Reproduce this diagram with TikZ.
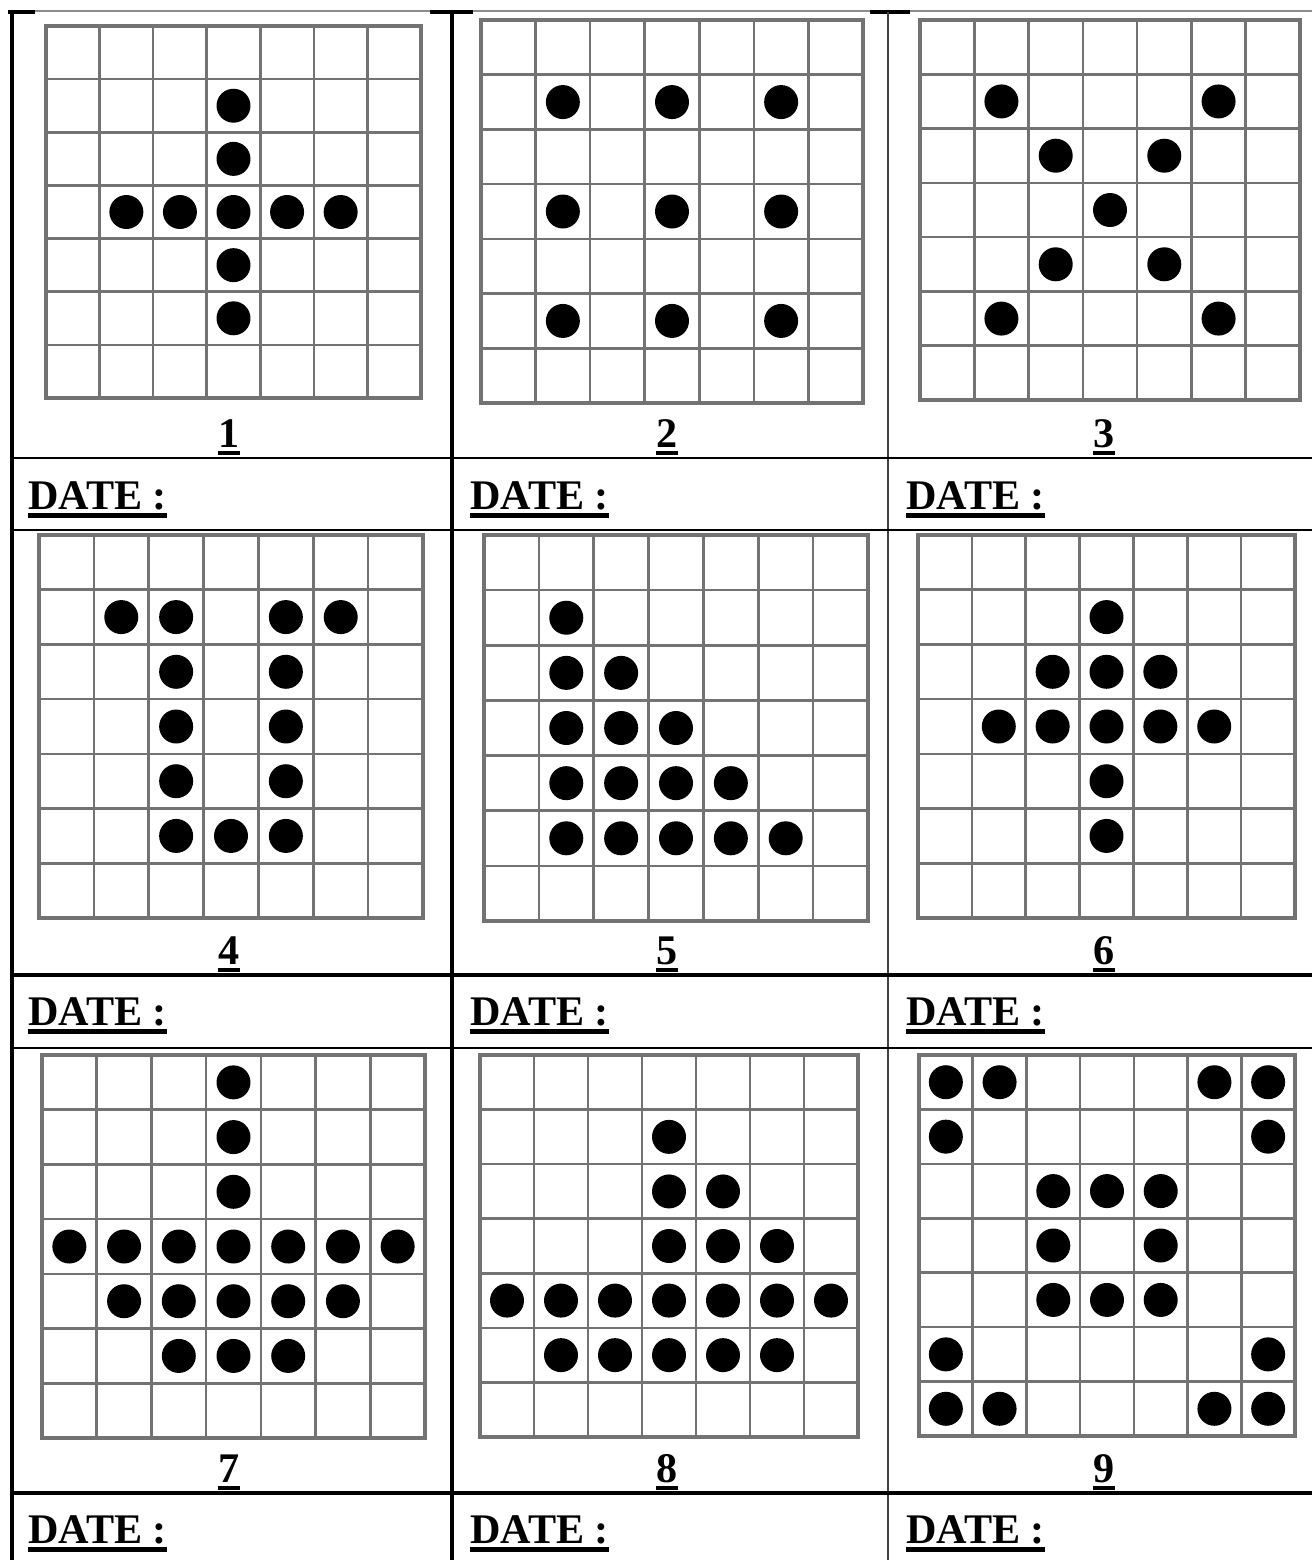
\documentclass[tikz,border=0pt]{standalone}
\usepackage{fontspec}
\setmainfont{Liberation Serif}
\usepackage{tikz}
\definecolor{gristrazo}{RGB}{115,115,115}
\definecolor{grisborde}{RGB}{140,140,140}
\newcommand{\subraya}[1]{\vtop{\hbox{#1}\kern2.2pt\hrule height 2.3pt}}

\begin{document}
\begin{tikzpicture}[x=0.02cm, y=-0.02cm,
  linea/.style={line width=1.2pt, draw=black},
  lineagruesa/.style={line width=1.8pt, draw=black},
  rejilla/.style={line width=1.5pt, draw=gristrazo},
  marco/.style={line width=2pt, draw=gristrazo},
  punto/.style={circle, fill=black, minimum size=0.68cm, inner sep=0pt},
  num/.style={font=\bfseries\fontsize{24}{28}\selectfont, inner sep=0pt,
              anchor=base},
  fecha/.style={font=\bfseries\fontsize{24}{28}\selectfont, inner sep=0pt,
                anchor=base west}]
  \useasboundingbox (0,0) rectangle (1312,1560);
  % Tabla
  \draw[line width=0.8pt, draw=grisborde] (12,11) -- (1312,11);
  \foreach \xa/\xb in {8/35, 430/473, 870/910}
    \draw[lineagruesa] (\xa,12) -- (\xb,12);
  \foreach \xv in {12,452}
    \draw[lineagruesa] (\xv,12) -- (\xv,1560);
  \draw[linea, draw=black!75] (888,12) -- (888,1560);
  \foreach \yh in {458,530,1048}
    \draw[linea] (12,\yh) -- (1312,\yh);
  \foreach \yh in {975,1493}
    \draw[lineagruesa] (12,\yh) -- (1312,\yh);
  % Rejillas y puntos
  \foreach \n/\gx/\gy/\gw/\gh/\lx/\ly/\puntos in {
      1/46/26/375/372/229/447/{3/1,3/2,1/3,2/3,3/3,4/3,5/3,3/4,3/5},
      2/481/20/382/383/667/447/{1/1,3/1,5/1,1/3,3/3,5/3,1/5,3/5,5/5},
      3/920/20/380/380/1104/447/{1/1,5/1,2/2,4/2,3/3,2/4,4/4,1/5,5/5},
      4/39/535/384/383/229/964/{1/1,2/1,4/1,5/1,2/2,4/2,2/3,4/3,2/4,4/4,
        2/5,3/5,4/5},
      5/484/535/384/386/667/964/{1/1,1/2,2/2,1/3,2/3,3/3,1/4,2/4,3/4,4/4,
        1/5,2/5,3/5,4/5,5/5},
      6/918/535/377/383/1104/964/{3/1,2/2,3/2,4/2,1/3,2/3,3/3,4/3,5/3,3/4,
        3/5},
      7/42/1055/383/383/229/1482/{3/0,3/1,3/2,0/3,1/3,2/3,3/3,4/3,5/3,6/3,
        1/4,2/4,3/4,4/4,5/4,2/5,3/5,4/5},
      8/480/1055/378/382/667/1482/{3/1,3/2,4/2,3/3,4/3,5/3,0/4,1/4,2/4,3/4,
        4/4,5/4,6/4,1/5,2/5,3/5,4/5,5/5},
      9/919/1055/376/381/1104/1482/{0/0,1/0,5/0,6/0,0/1,6/1,2/2,3/2,4/2,2/3,
        4/3,2/4,3/4,4/4,0/5,6/5,0/6,1/6,5/6,6/6}}{
    \begin{scope}[shift={(\gx,\gy)}, x=\gw*0.02cm/7, y=-\gh*0.02cm/7]
      \foreach \k in {1,...,6}{
        \draw[rejilla] (\k,0) -- (\k,7);
        \draw[rejilla] (0,\k) -- (7,\k);
      }
      \draw[marco] (0,0) rectangle (7,7);
      \foreach \c/\r in \puntos
        \node[punto] (p\n-\c-\r) at (\c+.5,\r+.5) {};
    \end{scope}
    \node[num] (n\n) at (\lx,\ly) {\subraya{\n}};
  }
  % Fechas
  \foreach \fx [count=\i] in {28,470,906}
    \foreach \fy [count=\j] in {509,1025,1543}
      \node[fecha] (f\i-\j) at (\fx,\fy) {\subraya{DATE :}};
\end{tikzpicture}
\end{document}
